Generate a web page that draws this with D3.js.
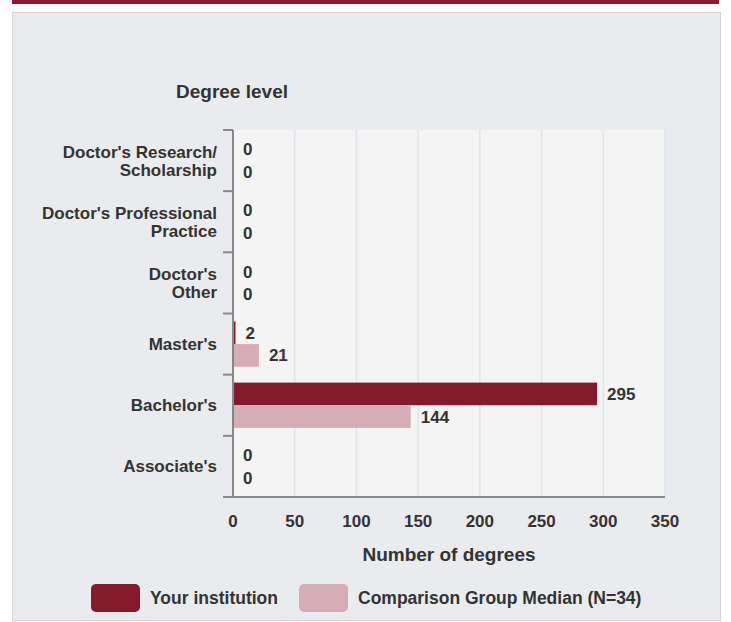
<!DOCTYPE html>
<meta charset="utf-8">
<script src="https://d3js.org/d3.v7.min.js"></script>
<style>
  body { margin: 0; background: #fff; }
  text { font-family: "Liberation Sans", Arial, sans-serif; fill: #333; }
</style>
<div id="chart"></div>
<script>
// data
const categories = [["Doctor's Research/", "Scholarship"], ["Doctor's Professional", "Practice"], ["Doctor's", "Other"], ["Master's"], ["Bachelor's"], ["Associate's"]];
const yourInstitution = [0, 0, 0, 2, 295, 0];
const comparisonMedian = [0, 0, 0, 21, 144, 0];
const xTicks = [0, 50, 100, 150, 200, 250, 300, 350];
const seriesNames = ["Your institution", "Comparison Group Median (N=34)"];
const colors = ["#841a2e", "#d5adb6"];

const W = 731, H = 622;
const svg = d3.select("#chart").append("svg").attr("width", W).attr("height", H);

// header bar and panel
svg.append("rect").attr("x", 12).attr("y", 0).attr("width", 707).attr("height", 4).attr("fill", "#8b1a2e");
svg.append("rect").attr("x", 12.5).attr("y", 12.5).attr("width", 708).attr("height", 608)
  .attr("fill", "#eaebef").attr("stroke", "#d2d2d2");

const plot = {left: 233, right: 665, top: 130, bottom: 497};

const x = d3.scaleLinear().domain([0, 350]).range([plot.left, plot.right]);
const keys = categories.map((d, i) => i);
const y = d3.scaleBand().domain(keys).range([plot.top, plot.bottom]).paddingInner(0.26).paddingOuter(0.13);
const sub = d3.scaleBand().domain([0, 1]).range([0, y.bandwidth()]);

// plot background
svg.append("rect").attr("x", plot.left).attr("y", plot.top)
  .attr("width", plot.right - plot.left).attr("height", plot.bottom - plot.top).attr("fill", "#f4f4f4");

// grid
svg.append("g").selectAll("line").data(xTicks.slice(1)).join("line")
  .attr("x1", d => x(d)).attr("x2", d => x(d))
  .attr("y1", plot.top).attr("y2", plot.bottom)
  .attr("stroke", "#dde4ee").attr("stroke-width", 1.5);

// bars
const series = [yourInstitution, comparisonMedian];
series.forEach((vals, s) => {
  const g = svg.append("g");
  g.selectAll("rect").data(vals).join("rect")
    .attr("x", x(0))
    .attr("y", (d, i) => y(i) + sub(s))
    .attr("width", d => x(d) - x(0))
    .attr("height", sub.bandwidth())
    .attr("fill", colors[s]);
  g.selectAll("text").data(vals).join("text")
    .attr("x", d => x(d) + 10)
    .attr("y", (d, i) => y(i) + sub(s) + sub.bandwidth() / 2)
    .attr("dy", "0.35em")
    .attr("font-size", 17).attr("font-weight", "bold")
    .text(d => d);
});

// left axis with category boundary ticks
const bounds = d3.range(categories.length + 1).map(i => plot.top + i * (plot.bottom - plot.top) / categories.length);
svg.append("g").selectAll("line").data(bounds).join("line")
  .attr("x1", plot.left - 10).attr("x2", plot.left)
  .attr("y1", d => d).attr("y2", d => d)
  .attr("stroke", "#888").attr("stroke-width", 2);
svg.append("line").attr("x1", plot.left).attr("x2", plot.left)
  .attr("y1", plot.top).attr("y2", plot.bottom).attr("stroke", "#888").attr("stroke-width", 2);
svg.append("line").attr("x1", plot.left - 10).attr("x2", plot.right)
  .attr("y1", plot.bottom).attr("y2", plot.bottom).attr("stroke", "#888").attr("stroke-width", 2);

// category labels
const cat = svg.append("g").selectAll("text").data(categories).join("text")
  .attr("text-anchor", "end")
  .attr("font-size", 17).attr("font-weight", "bold");
cat.each(function (lines, i) {
  const cy = y(i) + y.bandwidth() / 2;
  const start = cy - (lines.length - 1) * 9;
  d3.select(this).selectAll("tspan").data(lines).join("tspan")
    .attr("x", 217)
    .attr("y", (d, j) => start + j * 18)
    .attr("dy", "0.35em")
    .text(d => d);
});

// x axis tick labels
svg.append("g").selectAll("text").data(xTicks).join("text")
  .attr("x", d => x(d)).attr("y", 521).attr("dy", "0.35em")
  .attr("text-anchor", "middle")
  .attr("font-size", 17).attr("font-weight", "bold")
  .text(d => d);

// titles
svg.append("text").attr("x", 232).attr("y", 91).attr("dy", "0.35em")
  .attr("text-anchor", "middle").attr("font-size", 19).attr("font-weight", "bold")
  .text("Degree level");
svg.append("text").attr("x", 449).attr("y", 554).attr("dy", "0.35em")
  .attr("text-anchor", "middle").attr("font-size", 19).attr("font-weight", "bold")
  .text("Number of degrees");

// legend
const legendX = [91, 299];
const leg = svg.append("g").selectAll("g").data(seriesNames).join("g")
  .attr("transform", (d, i) => `translate(${legendX[i]},584)`);
leg.append("rect").attr("width", 49).attr("height", 28).attr("rx", 5).attr("fill", (d, i) => colors[i]);
leg.append("text").attr("x", 59).attr("y", 14).attr("dy", "0.35em")
  .attr("font-size", 17.5).attr("font-weight", "bold").text(d => d);
</script>
